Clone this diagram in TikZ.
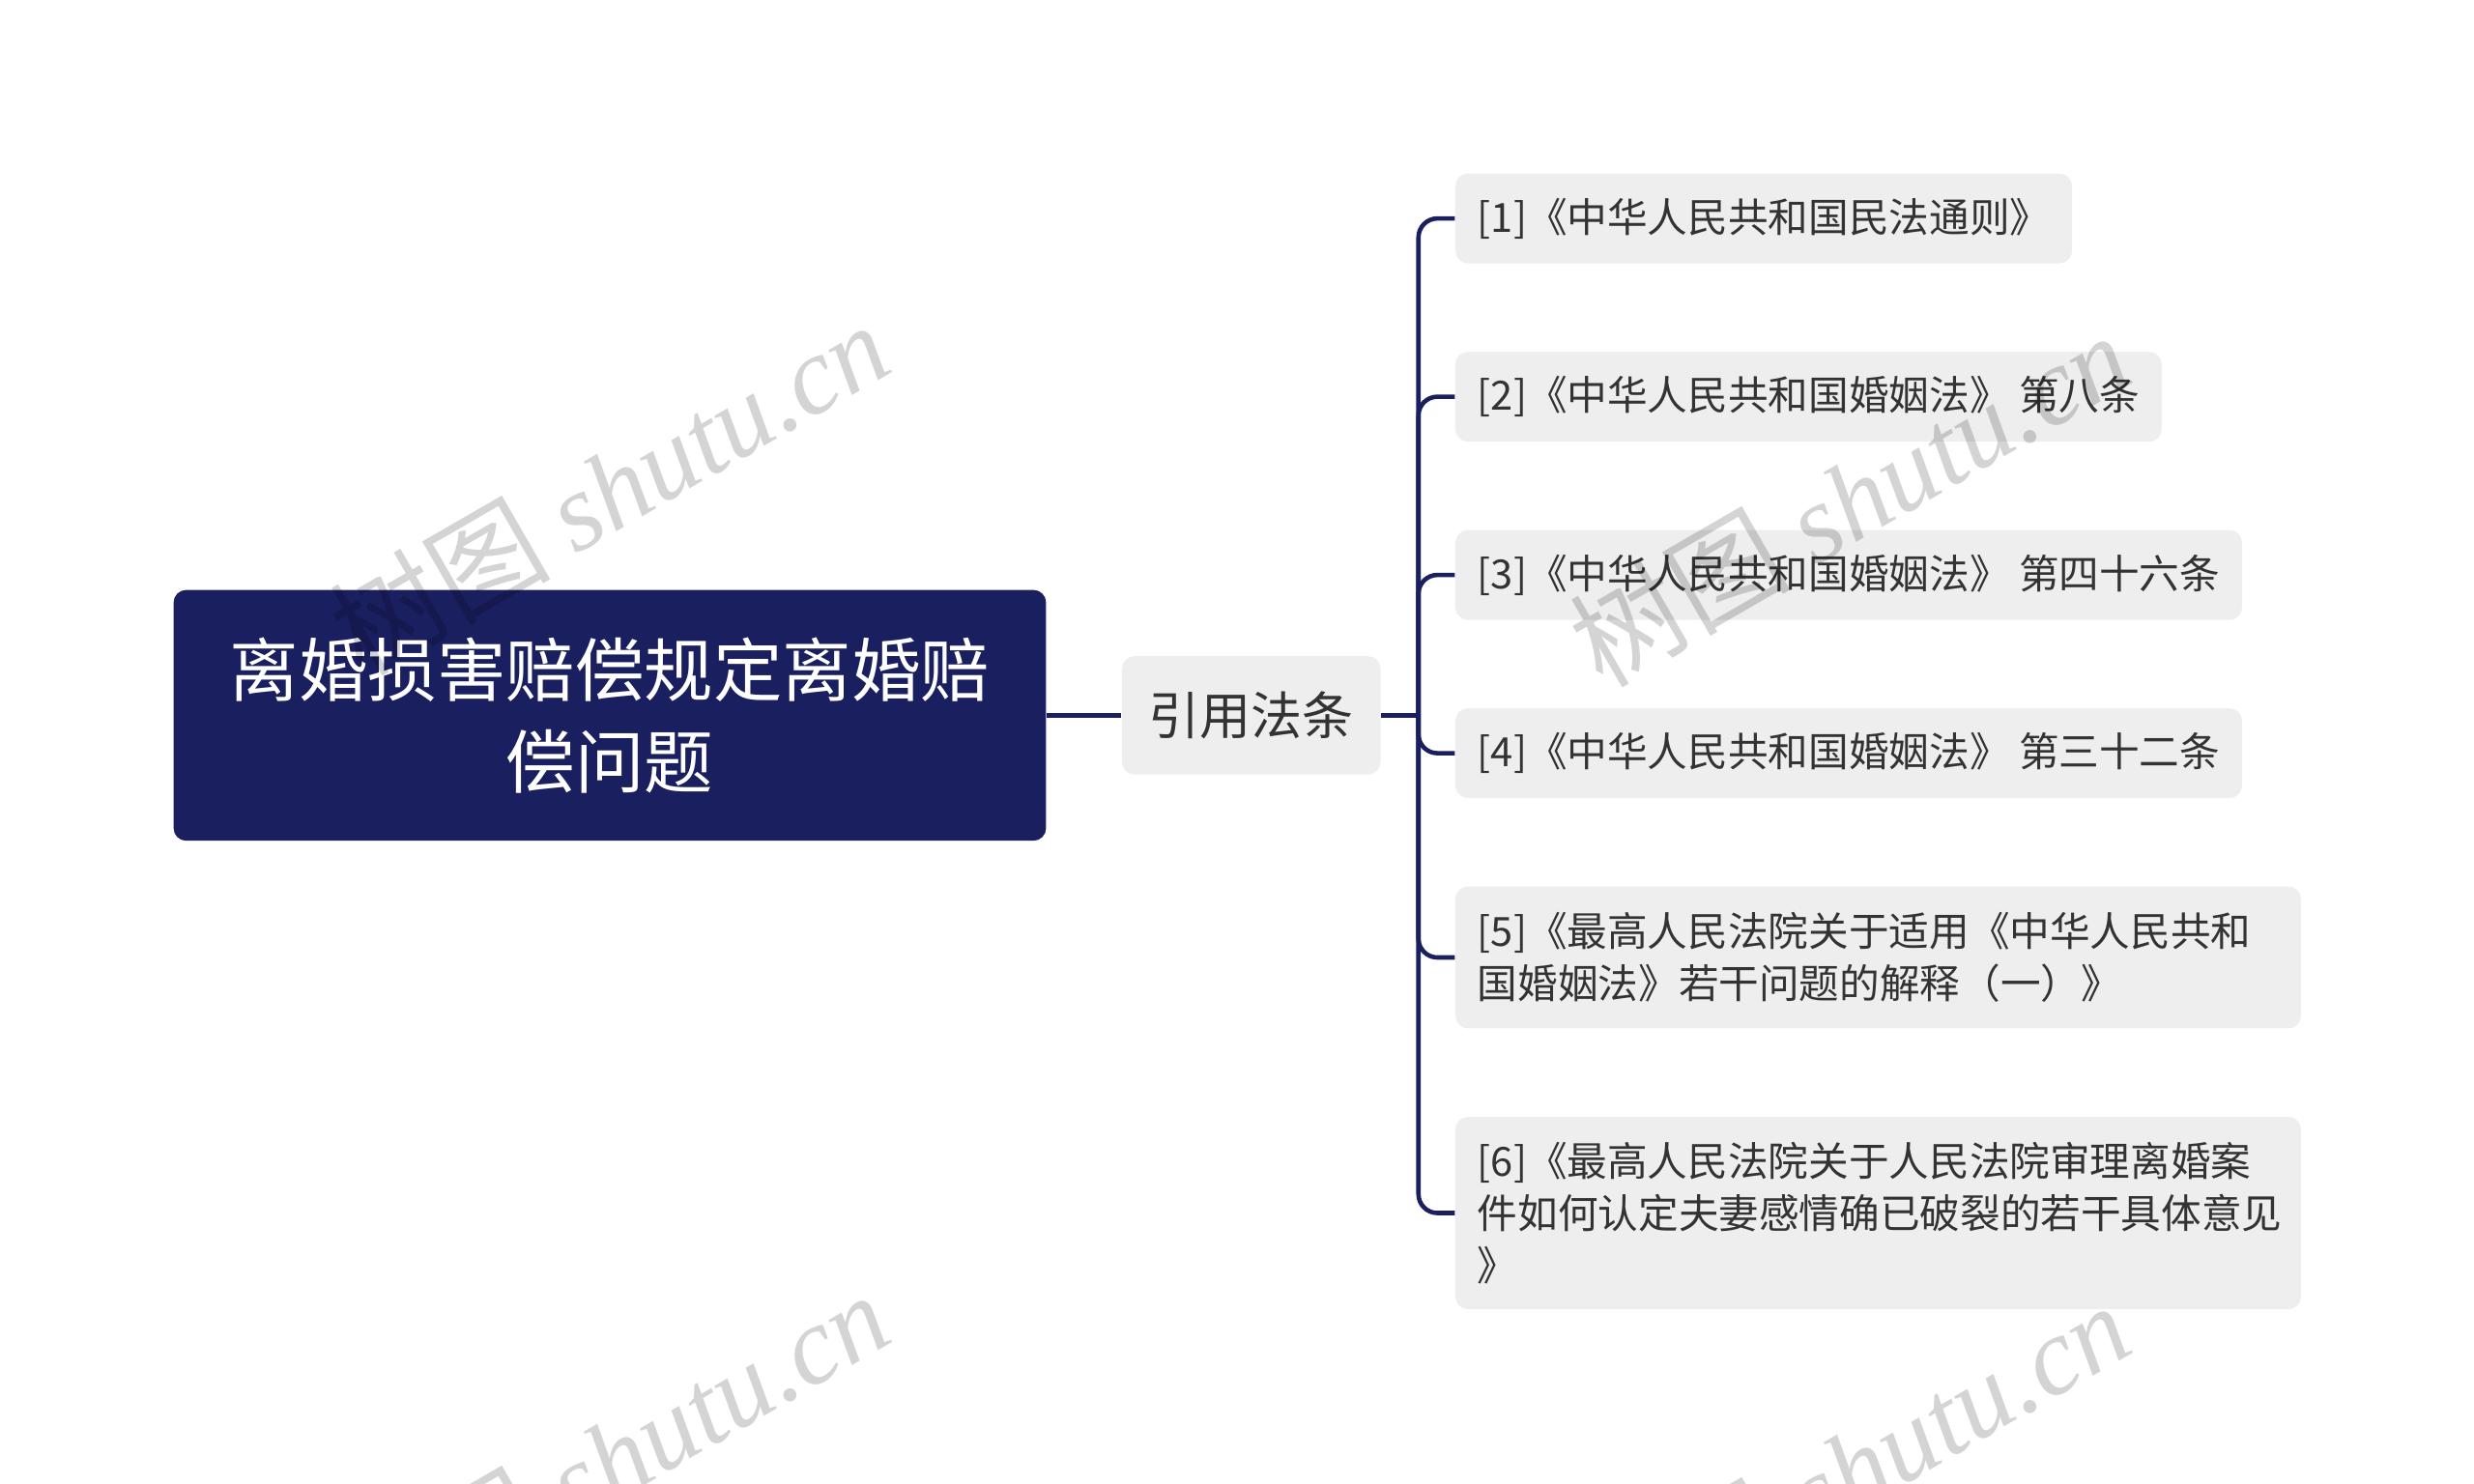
\documentclass[tikz,border=0pt]{standalone}
\usepackage{fontspec}
\setmainfont{Noto Sans CJK SC}
\newfontfamily\wmserif{Liberation Serif}

\definecolor{rootnavy}{RGB}{26,31,96}
\definecolor{leafgray}{RGB}{238,238,238}
\definecolor{leaftext}{RGB}{51,51,51}

\tikzset{
  rootbox/.style={rectangle, rounded corners=4pt, fill=rootnavy, text=white, align=center,
    minimum width=276.5pt, minimum height=79.5pt, inner sep=0pt, font=\fontsize{21.9}{29}\selectfont},
  refbox/.style={rectangle, rounded corners=4pt, fill=leafgray, text=leaftext,
    minimum width=82pt, minimum height=37.5pt, inner sep=0pt, font=\fontsize{16.25}{20}\selectfont},
  leafbox/.style={rectangle, rounded corners=4pt, fill=leafgray, text=leaftext, anchor=west, align=left,
    inner xsep=7pt, inner ysep=0pt, minimum height=28.5pt, font=\fontsize{12.75}{16.5}\selectfont},
  link/.style={draw=rootnavy, line width=1.4pt},
  wmark/.style={rotate=30, text=black, opacity=0.17, inner sep=0pt, font=\fontsize{35}{38}\selectfont}
}

\begin{document}
\begin{tikzpicture}[x=0.5pt,y=0.5pt,yscale=-1,xscale=1]
\useasboundingbox (0,0) rectangle (1568,940.8);

% Root Node
\node[rootbox] (root) at (386.5,453.5) {离婚损害赔偿规定离婚赔\\偿问题};
% Text Node
\node[refbox] (ref) at (793,453.5) {引用法条};

% Leaf Nodes
\node[leafbox] (leaf1) at (922,138.5) {[1]《中华人民共和国民法通则》};
\node[leafbox] (leaf2) at (922,251.5) {[2]《中华人民共和国婚姻法》 第八条};
\node[leafbox] (leaf3) at (922,364.5) {[3]《中华人民共和国婚姻法》 第四十六条};
\node[leafbox] (leaf4) at (922,477.5) {[4]《中华人民共和国婚姻法》 第三十二条};
\node[leafbox, minimum height=45pt, text width=254pt] (leaf5) at (922,607) {[5]《最高人民法院关于适用《中华人民共和\\国婚姻法》若干问题的解释（一）》};
\node[leafbox, minimum height=61pt, text width=254pt] (leaf6) at (922,769) {[6]《最高人民法院关于人民法院审理离婚案\\件如何认定夫妻感情确已破裂的若干具体意见\\》};

%Straight Lines
\coordinate (trunk) at (899,453.5);
\draw[link] (root.east) -- (ref.west);
\draw[link] (ref.east) -- (trunk);
\foreach \n in {1,...,6}
  \draw[link, rounded corners=6pt] (trunk) |- (leaf\n.west);

% Watermark
\node[wmark] (wm1) at (386,309) {树图 {\wmserif\itshape shutu.cn}};
\node[wmark] (wm2) at (1172,316) {树图 {\wmserif\itshape shutu.cn}};
\node[wmark] (wm3) at (386,924) {树图 {\wmserif\itshape shutu.cn}};
\node[wmark] (wm4) at (1172,931) {树图 {\wmserif\itshape shutu.cn}};

\end{tikzpicture}
\end{document}
